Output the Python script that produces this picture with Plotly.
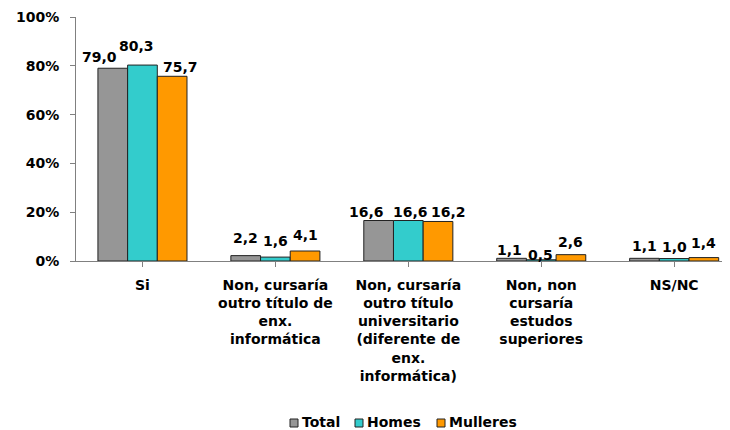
import plotly.graph_objects as go

categories = [
    "Si",
    "Non, cursaría<br>outro título de<br>enx.<br>informática",
    "Non, cursaría<br>outro título<br>universitario<br>(diferente de<br>enx.<br>informática)",
    "Non, non<br>cursaría<br>estudos<br>superiores",
    "NS/NC",
]
series_names = ["Total", "Homes", "Mulleres"]
total = [79.0, 2.2, 16.6, 1.1, 1.1]
homes = [80.3, 1.6, 16.6, 0.5, 1.0]
mulleres = [75.7, 4.1, 16.2, 2.6, 1.4]

colors = ["#969696", "#33CCCC", "#FF9900"]
# label placement offsets (px) mimicking the original's staggered data labels
label_dx = [[-13, 0, -12, -2, 0], [-6, 0, 2, -1, 0], [8, 0, 10, 0, 0]]
label_dy = [[1, 8, -1, -2, 2], [9, 6, -1, -5, 2], [-1, 6, -1, 3, 5]]

FONT = "DejaVu Sans"
BARGAP = 0.33
n = len(series_names)
bw = (1 - BARGAP) / n
xs = list(range(len(categories)))

fig = go.Figure()
annotations = []
for s, (name, vals, col) in enumerate(zip(series_names, [total, homes, mulleres], colors)):
    fig.add_trace(go.Bar(
        name=name, x=xs, y=vals,
        marker=dict(color=col, line=dict(color="#222222", width=1)),
        showlegend=False,
    ))
    off = (s - (n - 1) / 2) * bw
    for i, v in enumerate(vals):
        annotations.append(dict(
            x=i + off, y=v, xref="x", yref="y", text=f"<b>{v:.1f}</b>".replace(".", ","),
            showarrow=False, xanchor="center", yanchor="bottom",
            xshift=label_dx[s][i], yshift=label_dy[s][i],
            font=dict(family=FONT, size=14, color="black"),
        ))

# custom legend (small bordered squares close to their labels)
shapes = []
leg_x = [214, 279, 361]
for s, (name, col) in enumerate(zip(series_names, colors)):
    shapes.append(dict(type="rect", xref="paper", yref="paper", xsizemode="pixel", ysizemode="pixel",
                       xanchor=0, yanchor=0, x0=leg_x[s], x1=leg_x[s] + 8, y0=-166, y1=-158,
                       fillcolor=col, line=dict(color="#222222", width=1)))
    annotations.append(dict(x=0, y=0, xref="paper", yref="paper", xshift=leg_x[s] + 10, yshift=-161,
                            xanchor="left", yanchor="middle", showarrow=False,
                            text=f"<b>{name}</b>", font=dict(family=FONT, size=14, color="black")))

fig.update_layout(
    width=722, height=422,
    margin=dict(l=68, r=0, t=9, b=169),
    barmode="group", bargap=BARGAP, bargroupgap=0,
    plot_bgcolor="white", paper_bgcolor="white",
    font=dict(family=FONT, size=14, color="black"),
    showlegend=False,
    annotations=annotations, shapes=shapes,
)
fig.update_yaxes(range=[0, 100], dtick=20, ticksuffix="%", showgrid=False, automargin=False,
                 showline=True, linecolor="#808080", linewidth=1,
                 ticks="outside", ticklen=5, tickcolor="#808080", ticklabelstandoff=8,
                 tickfont=dict(family=FONT, size=14, weight="bold"), zeroline=False)
fig.update_xaxes(range=[-0.5, 4.42], tickvals=xs, ticktext=[f"<b>{c}</b>" for c in categories],
                 automargin=False,
                 showline=True, linecolor="#808080", linewidth=1,
                 ticks="outside", ticklen=5, tickcolor="#808080", tickson="boundaries",
                 ticklabelstandoff=6,
                 tickfont=dict(family=FONT, size=14), showgrid=False, tickangle=0)

fig.write_html("out.html")
